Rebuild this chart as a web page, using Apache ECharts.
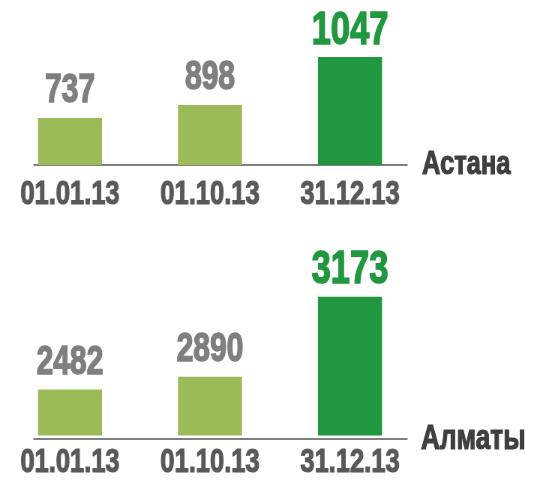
<!DOCTYPE html>
<html>
<head>
<meta charset="utf-8">
<script src="https://cdn.jsdelivr.net/npm/echarts@6/dist/echarts.min.js"></script>
<style>
  html, body { margin: 0; padding: 0; background: #fff; overflow: hidden; }
  /* no condensed font is installed, so the chart is drawn wide and squeezed */
  #chart { width: 716px; height: 480px; transform: scaleX(0.75); transform-origin: 0 0; }
</style>
</head>
<body>
<div id="chart"></div>
<script>
// dates under each bar
const dates = ['01.01.13', '01.10.13', '31.12.13'];

// numbers printed above the bars
const astanaValues = [737, 898, 1047];
const almatyValues = [2482, 2890, 3173];

// bar levels as drawn in the picture (the bars are not to the number's scale)
const astanaLevels = [47, 60, 108];
const almatyLevels = [47, 60, 142];

const cityNames = ['Астана', 'Алматы'];

const SX = 0.75; // horizontal squeeze
const FONT = '"Liberation Sans", Arial, sans-serif';
const LIGHT = '#9bbb59';
const DARK = '#21983f';
const GREY = '#7f7f7f';

// heavier look: outline text in its own colour
function heavy(color, size, w) {
  return {
    fontFamily: FONT,
    fontWeight: 'bold',
    fontSize: size,
    color: color,
    textBorderColor: color,
    textBorderWidth: w
  };
}

function buildBars(levels, values, gridIdx) {
  const last = levels.length - 1;
  return {
    type: 'bar',
    xAxisIndex: gridIdx,
    yAxisIndex: gridIdx,
    barWidth: 64 / SX,
    silent: true,
    data: levels.map((lv, i) => ({
      value: lv,
      itemStyle: { color: i === last ? DARK : LIGHT },
      label: Object.assign({
        show: true,
        position: 'top',
        distance: i === last ? 3 : 7,
        formatter: () => String(values[i])
      }, heavy(i === last ? DARK : GREY, i === last ? 46 : 40, 1.5))
    }))
  };
}

function barX(gridIdx, margin) {
  return {
    type: 'category',
    gridIndex: gridIdx,
    data: dates,
    axisLine: { show: false },
    axisTick: { show: false },
    axisLabel: Object.assign({ interval: 0, margin: margin }, heavy('#595959', 34, 1.2))
  };
}

function baseX(gridIdx, name, gap, lift, size) {
  return {
    type: 'category',
    gridIndex: gridIdx,
    data: [''],
    axisLine: { show: true, lineStyle: { color: '#808080', width: 2 } },
    axisTick: { show: false },
    axisLabel: { show: false },
    name: name,
    nameLocation: 'end',
    nameGap: gap / SX,
    nameTextStyle: Object.assign({ padding: [0, 0, lift, 0] }, heavy('#3f3f3f', size, 1.2))
  };
}

function hiddenY(gridIdx, max) {
  return {
    type: 'value',
    gridIndex: gridIdx,
    min: 0,
    max: max,
    show: false
  };
}

const chart = echarts.init(document.getElementById('chart'));
chart.setOption({
  animation: false,
  grid: [
    { left: 0, top: 15, width: 420 / SX, height: 150 },
    { left: 0, top: 289, width: 420 / SX, height: 150 },
    { left: 34 / SX, top: 15, width: 373 / SX, height: 150 },
    { left: 34 / SX, top: 289, width: 373 / SX, height: 150 }
  ],
  xAxis: [
    barX(0, 13),
    barX(1, 10),
    baseX(2, cityNames[0], 15, 0, 34),
    baseX(3, cityNames[1], 14, 8, 35)
  ],
  yAxis: [
    hiddenY(0, 150),
    hiddenY(1, 150),
    hiddenY(2, 1),
    hiddenY(3, 1)
  ],
  series: [
    buildBars(astanaLevels, astanaValues, 0),
    buildBars(almatyLevels, almatyValues, 1)
  ]
});
</script>
</body>
</html>
